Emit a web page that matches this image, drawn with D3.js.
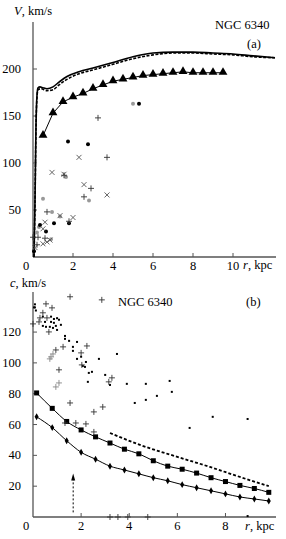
<!DOCTYPE html>
<html>
<head>
<meta charset="utf-8">
<script src="https://cdn.jsdelivr.net/npm/d3@7"></script>
<style>
  body { margin: 0; background: #fff; }
  text { font-family: "Liberation Serif", "DejaVu Serif", serif; }
</style>
</head>
<body>
<script>
'use strict';

// ---- panel (a): rotation curves ----
var solidR = [0.05, 0.1, 0.15, 0.2, 0.25, 0.35, 0.5, 0.7, 1.0, 1.3, 1.7, 2.3, 3, 4, 5, 6, 7, 8, 9, 10, 11, 12.1];
var solidV = [0, 60, 140, 172, 180, 181, 180, 179, 181, 186, 192, 197, 201, 207, 213, 217, 218, 218, 217, 216, 214, 212];
var dashR = [0.05, 0.1, 0.15, 0.2, 0.25, 0.4, 0.7, 1.0, 1.3, 1.7, 2.3, 3, 4, 5, 6, 7, 8, 9, 10, 11, 12.1];
var dashV = [0, 58, 138, 170, 178, 179, 177, 178, 183, 189, 195, 199, 205, 211, 215, 217, 217, 216, 215, 213, 212];
var triR = [0.5, 1.0, 1.5, 2.0, 2.5, 3.0, 3.5, 4.0, 4.5, 5.0, 5.5, 6.0, 6.5, 7.0, 7.5, 8.0, 8.5, 9.0, 9.5];
var triV = [129, 153, 165, 170, 174, 179, 183, 187, 189, 191, 193, 194, 195, 196, 197, 196, 196, 196, 196];

var aBlackDots = [[1.75, 123], [2.75, 120], [5.3, 163], [1.05, 36], [1.8, 36], [0.35, 34], [0.65, 27], [0.05, 6]];
var aGrayDots = [[5.0, 163], [1.65, 85], [0.5, 62], [2.8, 60], [0.95, 48], [1.35, 43], [0.3, 32], [0.2, 26], [0.9, 19]];
var aXMarks = [[2.3, 106], [0.95, 90], [1.55, 88], [2.55, 77], [3.7, 66], [1.35, 44], [2.0, 42], [0.6, 37],
               [0.5, 30], [0.85, 18], [0.5, 14], [0.7, 16], [0.1, 10]];
var aPlus = [[3.25, 148], [3.7, 106], [1.55, 87], [2.9, 73], [2.55, 64], [0.7, 48], [1.8, 38],
             [0.25, 21], [0.6, 20], [0.2, 13], [0.0, 21]];

var aXTicks = [2, 4, 6, 8, 10];
var aYTicks = [50, 100, 150, 200];

// ---- panel (b): sound speed / dispersion ----
var sqR = [0.15, 0.8, 1.4, 2.0, 2.6, 3.2, 3.8, 4.4, 5.0, 5.6, 6.2, 6.8, 7.4, 8.0, 8.6, 9.2, 9.8];
var sqC = [80.5, 70.5, 62, 56.5, 52, 48, 44, 41, 36.5, 33, 31, 28.5, 25.5, 23, 20.5, 18.5, 16];
var dmC = [65, 58, 49.5, 42, 37.5, 33, 30.5, 28, 25.5, 23.5, 21, 19, 17, 15, 13, 11.7, 10.4];
var bDashR = [3.2, 4.5, 6.0, 7.35, 8.5, 9.8];
var bDashC = [54.5, 46.5, 39, 32.5, 26.5, 20];
var arrowR = 1.67, arrowC = [3, 27];

var bDots = [[0.04, 136], [0.08, 138], [0.08, 136], [0.12, 134], [0.41, 130], [0.75, 130], [0.87, 128.5],
             [1.0, 129], [1.08, 128], [0.5, 126.6], [0.75, 126.6], [0.87, 126], [0.41, 124], [0.54, 123.4],
             [0.7, 123.4], [0.83, 122.7], [0.95, 124], [1.16, 124.7], [1.0, 121.4], [1.33, 117.5],
             [1.33, 115.6], [1.5, 114.3], [1.83, 113.6], [1.66, 110.4], [1.66, 107.8], [2.0, 104],
             [1.83, 102.6], [2.2, 100.6], [2.07, 98], [2.16, 97.4], [2.74, 102.6], [3.49, 105.8],
             [2.32, 93.5], [2.45, 94.2], [3.2, 85.7], [3.0, 92.2], [2.28, 87.7], [3.9, 86.4], [4.23, 74],
             [4.69, 76], [5.15, 78.6], [4.69, 86.4], [5.68, 88.3], [5.77, 81.2], [6.51, 57.8],
             [7.47, 65], [8.92, 63.6], [8.92, 0.6]];
var bPlusBlack = [[0.54, 138.3], [0.79, 135.7], [1.54, 142.9], [2.86, 140.9], [0.29, 129.2], [0.41, 132.5],
                  [0.58, 129.2], [0.25, 126.6], [0.0, 125.3], [0.66, 120.1], [1.25, 110.4], [2.24, 111],
                  [0.95, 108.4], [2.0, 106.5], [2.03, 98.7], [1.08, 95.5], [3.28, 90.3], [3.15, 87.7],
                  [1.54, 74], [2.9, 71.4], [2.53, 68.2], [1.33, 61], [1.78, 61], [2.2, 60.4], [2.53, 55.2],
                  [3.2, 0], [3.53, 0], [3.94, 0], [4.77, 0]];
var bPlusGray = [[0.83, 105.8], [0.75, 103.9], [0.7, 102.6], [1.08, 87], [0.95, 84.4]];

var bXTicks = [2, 4, 6, 8];
var bYTicks = [20, 40, 60, 80, 100, 120];

var W = 286, H = 539;
var svg = d3.select("body").append("svg").attr("width", W).attr("height", H);

var axisColor = "#555";

function drawAxes(g, x, y, xTicks, yTicks, yTop) {
   var x0 = x(0), y0 = y(0);
   g.append("line").attr("x1", x0).attr("x2", x0).attr("y1", yTop).attr("y2", y0)
      .attr("stroke", axisColor).attr("stroke-width", 1.3);
   g.append("line").attr("x1", x0).attr("x2", x.range()[1]).attr("y1", y0).attr("y2", y0)
      .attr("stroke", axisColor).attr("stroke-width", 1.3);

   g.selectAll(".xt").data(xTicks).enter().append("line")
      .attr("x1", function(d){ return x(d); }).attr("x2", function(d){ return x(d); })
      .attr("y1", y0).attr("y2", y0 - 4).attr("stroke", axisColor);
   g.selectAll(".xl").data(xTicks).enter().append("text")
      .attr("x", function(d){ return x(d); }).attr("y", y0 + 13)
      .attr("text-anchor", "middle").attr("font-size", "12.5px").text(function(d){ return d; });
   g.append("text").attr("x", x0 - 7).attr("y", y0 + 13)
      .attr("text-anchor", "middle").attr("font-size", "12.5px").text("0");

   g.selectAll(".yt").data(yTicks).enter().append("line")
      .attr("x1", x0).attr("x2", x0 + 4)
      .attr("y1", function(d){ return y(d); }).attr("y2", function(d){ return y(d); })
      .attr("stroke", axisColor);
   g.selectAll(".yl").data(yTicks).enter().append("text")
      .attr("x", x0 - 12).attr("y", function(d){ return y(d) + 4; })
      .attr("text-anchor", "end").attr("font-size", "12.5px").text(function(d){ return d; });
}

function zip(a, b) { return a.map(function(v, i){ return [v, b[i]]; }); }

function plus(g, pts, x, y, color, s) {
   pts.forEach(function(p){
      var cx = x(p[0]), cy = y(p[1]);
      g.append("path").attr("d", "M" + (cx - s) + "," + cy + "H" + (cx + s) + "M" + cx + "," + (cy - s) + "V" + (cy + s))
         .attr("stroke", color).attr("stroke-width", 0.9).attr("fill", "none");
   });
}
function cross(g, pts, x, y, color, s) {
   pts.forEach(function(p){
      var cx = x(p[0]), cy = y(p[1]);
      g.append("path").attr("d", "M" + (cx - s) + "," + (cy - s) + "L" + (cx + s) + "," + (cy + s) +
                                 "M" + (cx - s) + "," + (cy + s) + "L" + (cx + s) + "," + (cy - s))
         .attr("stroke", color).attr("stroke-width", 0.9).attr("fill", "none");
   });
}

// ================= panel (a) =================
var xa = d3.scaleLinear().domain([0, 12.15]).range([33, 276]);
var ya = d3.scaleLinear().domain([0, 250]).range([257, 22]);
var ga = svg.append("g");
drawAxes(ga, xa, ya, aXTicks, aYTicks, 22);

var lineA = d3.line().x(function(d){ return xa(d[0]); }).y(function(d){ return ya(d[1]); })
   .curve(d3.curveMonotoneX);

ga.append("path").datum(zip(dashR, dashV)).attr("d", lineA)
   .attr("fill", "none").attr("stroke", "#000").attr("stroke-width", 1.6).attr("stroke-dasharray", "3,1.5");
ga.append("path").datum(zip(solidR, solidV)).attr("d", lineA)
   .attr("fill", "none").attr("stroke", "#000").attr("stroke-width", 1.6);

var triPts = zip(triR, triV);
ga.append("path").datum(triPts).attr("d", lineA.curve(d3.curveLinear))
   .attr("fill", "none").attr("stroke", "#000").attr("stroke-width", 1);
ga.selectAll(".tri").data(triPts).enter().append("path")
   .attr("d", d3.symbol().type(d3.symbolTriangle).size(34))
   .attr("transform", function(d){ return "translate(" + xa(d[0]) + "," + (ya(d[1]) - 0.5) + ")"; })
   .attr("fill", "#000");

ga.selectAll(".gd").data(aGrayDots).enter().append("circle")
   .attr("cx", function(d){ return xa(d[0]); }).attr("cy", function(d){ return ya(d[1]); })
   .attr("r", 2).attr("fill", "#999");
ga.selectAll(".bd").data(aBlackDots).enter().append("circle")
   .attr("cx", function(d){ return xa(d[0]); }).attr("cy", function(d){ return ya(d[1]); })
   .attr("r", 2).attr("fill", "#000");
cross(ga, aXMarks, xa, ya, "#555", 2.5);
plus(ga, aPlus, xa, ya, "#333", 3);

var labA = ga.append("text").attr("x", 14).attr("y", 15).attr("font-size", "12.5px");
labA.append("tspan").attr("font-style", "italic").text("V");
labA.append("tspan").text(", km/s");
var xlA = ga.append("text").attr("x", 243).attr("y", 269).attr("font-size", "12.5px");
xlA.append("tspan").attr("font-style", "italic").text("r");
xlA.append("tspan").text(", kpc");
ga.append("text").attr("x", 215).attr("y", 29).attr("font-size", "12.5px").text("NGC 6340");
ga.append("text").attr("x", 247).attr("y", 48).attr("font-size", "12.5px").text("(a)");

// ================= panel (b) =================
var xb = d3.scaleLinear().domain([0, 10.1]).range([33, 276]);
var yb = d3.scaleLinear().domain([0, 146]).range([517, 292]);
var gb = svg.append("g");
drawAxes(gb, xb, yb, bXTicks, bYTicks, 292);

var lineB = d3.line().x(function(d){ return xb(d[0]); }).y(function(d){ return yb(d[1]); })
   .curve(d3.curveMonotoneX);

var sqPts = zip(sqR, sqC), dmPts = zip(sqR, dmC);
gb.append("path").datum(sqPts).attr("d", lineB).attr("fill", "none").attr("stroke", "#000").attr("stroke-width", 1);
gb.append("path").datum(dmPts).attr("d", lineB).attr("fill", "none").attr("stroke", "#000").attr("stroke-width", 1);
gb.append("path").datum(zip(bDashR, bDashC)).attr("d", lineB)
   .attr("fill", "none").attr("stroke", "#000").attr("stroke-width", 1.8).attr("stroke-dasharray", "3,2");

gb.selectAll(".sq").data(sqPts).enter().append("rect")
   .attr("x", function(d){ return xb(d[0]) - 2.5; }).attr("y", function(d){ return yb(d[1]) - 2.5; })
   .attr("width", 5).attr("height", 5).attr("fill", "#000");
gb.selectAll(".dm").data(dmPts).enter().append("path")
   .attr("d", d3.symbol().type(d3.symbolDiamond).size(14))
   .attr("transform", function(d){ return "translate(" + xb(d[0]) + "," + yb(d[1]) + ")"; })
   .attr("fill", "#000");

gb.selectAll(".dot").data(bDots).enter().append("rect")
   .attr("x", function(d){ return xb(d[0]) - 1; }).attr("y", function(d){ return yb(d[1]) - 1; })
   .attr("width", 2).attr("height", 2).attr("fill", "#000");
plus(gb, bPlusBlack, xb, yb, "#333", 3);
plus(gb, bPlusGray, xb, yb, "#888", 3);

// dashed arrow
gb.append("line").attr("x1", xb(arrowR)).attr("x2", xb(arrowR))
   .attr("y1", yb(arrowC[0])).attr("y2", yb(arrowC[1]) + 3)
   .attr("stroke", "#000").attr("stroke-width", 1).attr("stroke-dasharray", "2,2");
gb.append("path")
   .attr("d", "M" + xb(arrowR) + "," + (yb(arrowC[1]) - 2) + "l-2,7l4,0z")
   .attr("fill", "#000");

var labB = gb.append("text").attr("x", 10).attr("y", 287).attr("font-size", "12.5px");
labB.append("tspan").attr("font-style", "italic").text("c");
labB.append("tspan").text(", km/s");
var xlB = gb.append("text").attr("x", 245).attr("y", 530).attr("font-size", "12.5px");
xlB.append("tspan").attr("font-style", "italic").text("r");
xlB.append("tspan").text(", kpc");
gb.append("text").attr("x", 118).attr("y", 306).attr("font-size", "12.5px").text("NGC 6340");
gb.append("text").attr("x", 246).attr("y", 306).attr("font-size", "12.5px").text("(b)");
</script>
</body>
</html>
